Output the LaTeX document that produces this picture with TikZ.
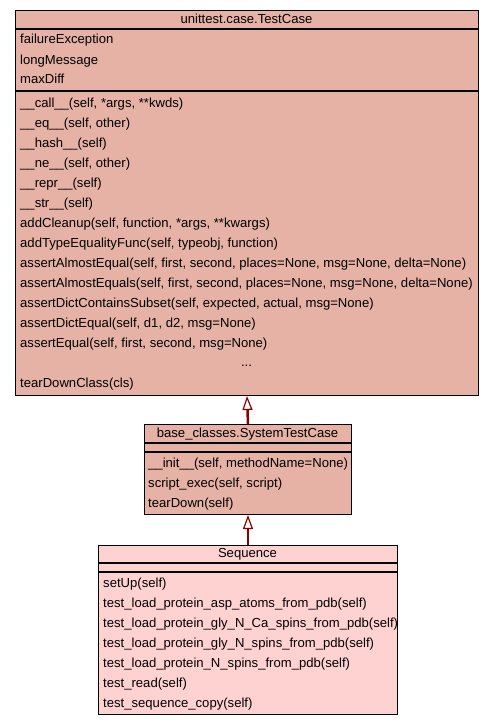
\documentclass[tikz,border=0pt]{standalone}
\usepackage{fontspec}
\setmainfont{Liberation Sans}
\usetikzlibrary{arrows.meta}
\definecolor{basefill}{RGB}{229,178,165}
\definecolor{leaffill}{RGB}{255,210,210}
\definecolor{inheritred}{RGB}{139,0,0}
\tikzset{
  classbox/.style={draw=black, line width=1pt, anchor=north west, inner sep=0pt},
  sepline/.style={line width=1.4pt},
  member/.style={anchor=base west, inner sep=0pt, font=\fontsize{13.1}{15}\selectfont},
  title/.style={anchor=base, inner sep=0pt, font=\fontsize{13.1}{15}\selectfont},
  inherit/.style={draw=inheritred, line width=2.5pt, -{Triangle[open, length=14pt, width=10pt, line width=1.2pt]}}
}

\begin{document}
\begin{tikzpicture}[x=1pt, y=-1pt]
			%%%%% START %%%%%
			\useasboundingbox (0, 0) rectangle (493, 725);
			
			\node[classbox, fill=basefill, minimum width=463pt, minimum height=385pt] (testcase) at (15, 10) {};
			\draw[sepline] (15, 29) -- (478, 29);
			\draw[sepline] (15, 91) -- (478, 91);
			\node[title] (tctitle) at (246.5, 23.5) {unittest.case.TestCase};
			\node[member] (tca1) at (20, 44) {failureException};
			\node[member] (tca2) at (20, 64) {longMessage};
			\node[member] (tca3) at (20, 84) {maxDiff};
			\node[member] (tcm1) at (20, 107) {\_\_call\_\_(self, *args, **kwds)};
			\node[member] (tcm2) at (20, 127) {\_\_eq\_\_(self, other)};
			\node[member] (tcm3) at (20, 147) {\_\_hash\_\_(self)};
			\node[member] (tcm4) at (20, 167) {\_\_ne\_\_(self, other)};
			\node[member] (tcm5) at (20, 187) {\_\_repr\_\_(self)};
			\node[member] (tcm6) at (20, 207) {\_\_str\_\_(self)};
			\node[member] (tcm7) at (20, 227) {addCleanup(self, function, *args, **kwargs)};
			\node[member] (tcm8) at (20, 247) {addTypeEqualityFunc(self, typeobj, function)};
			\node[member] (tcm9) at (20, 267) {assertAlmostEqual(self, first, second, places=None, msg=None, delta=None)};
			\node[member] (tcm10) at (20, 287) {assertAlmostEquals(self, first, second, places=None, msg=None, delta=None)};
			\node[member] (tcm11) at (20, 307) {assertDictContainsSubset(self, expected, actual, msg=None)};
			\node[member] (tcm12) at (20, 327) {assertDictEqual(self, d1, d2, msg=None)};
			\node[member] (tcm13) at (20, 347) {assertEqual(self, first, second, msg=None)};
			\node[title] (tcdots) at (246.5, 366) {...};
			\node[member] (tcm14) at (20, 387) {tearDownClass(cls)};
			
			\node[classbox, fill=basefill, minimum width=207pt, minimum height=90pt] (systemtestcase) at (144, 424) {};
			\draw[sepline] (144, 443) -- (351, 443);
			\draw[sepline] (144, 452) -- (351, 452);
			\node[title] (sttitle) at (247.5, 437.5) {base\_classes.SystemTestCase};
			\node[member] (stm1) at (148, 467.5) {\_\_init\_\_(self, methodName=None)};
			\node[member] (stm2) at (148, 487) {script\_exec(self, script)};
			\node[member] (stm3) at (148, 507) {tearDown(self)};
			
			\node[classbox, fill=leaffill, minimum width=299pt, minimum height=169pt] (sequence) at (98, 545) {};
			\draw[sepline] (98, 563) -- (397, 563);
			\draw[sepline] (98, 572) -- (397, 572);
			\node[title] (sqtitle) at (247.5, 557.5) {Sequence};
			\node[member] (sqm1) at (103, 587) {setUp(self)};
			\node[member] (sqm2) at (103, 607) {test\_load\_protein\_asp\_atoms\_from\_pdb(self)};
			\node[member] (sqm3) at (103, 627) {test\_load\_protein\_gly\_N\_Ca\_spins\_from\_pdb(self)};
			\node[member] (sqm4) at (103, 647) {test\_load\_protein\_gly\_N\_spins\_from\_pdb(self)};
			\node[member] (sqm5) at (103, 667) {test\_load\_protein\_N\_spins\_from\_pdb(self)};
			\node[member] (sqm6) at (103, 687) {test\_read(self)};
			\node[member] (sqm7) at (103, 707) {test\_sequence\_copy(self)};
			
			\draw[inherit] (systemtestcase.north) -- (testcase.south);
			\draw[inherit] (sequence.north) -- (systemtestcase.south);
			
			%%%%% END %%%%%
		\end{tikzpicture}
\end{document}
